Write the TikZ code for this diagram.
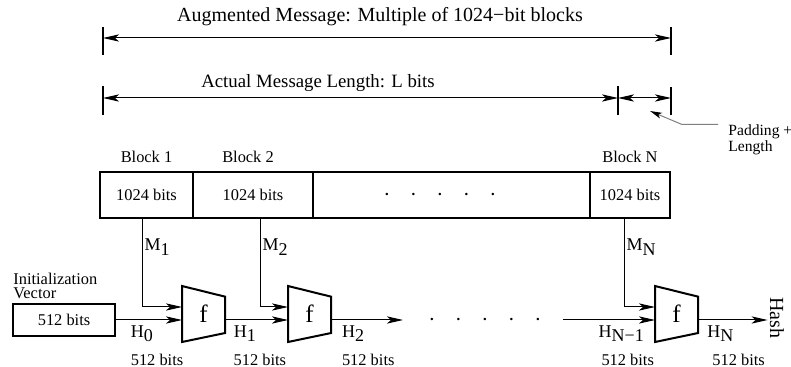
\documentclass[tikz,border=0pt]{standalone}
\usepackage{fontspec}
\setmainfont{Liberation Serif}
\usepackage{tikz}
\usetikzlibrary{arrows.meta,positioning,calc}
\newcommand{\lowsub}[1]{\raisebox{-0.55ex}{#1}}
\newcommand{\dotrow}{{\fontsize{12}{12}\selectfont$\cdot$\hspace{9.9pt}$\cdot$\hspace{9.9pt}$\cdot$\hspace{9.9pt}$\cdot$\hspace{9.9pt}$\cdot$}}

\begin{document}
\begin{tikzpicture}[
  x=0.5pt,y=-0.5pt,
  blk/.style={rectangle,draw,line width=1.4pt,minimum height=23pt,inner sep=0pt,outer sep=0pt,font=\fontsize{8.2}{9}\selectfont},
  lbl/.style={font=\fontsize{8.2}{9}\selectfont,inner sep=1pt},
  title/.style={font=\fontsize{10}{12}\selectfont,inner sep=1pt},
  fn/.style={minimum width=21.5pt,minimum height=28pt,inner sep=0pt,outer sep=0pt,font=\fontsize{12.5}{13}\selectfont},
  trap/.style={line width=1pt,line join=miter},
  hl/.style={font=\fontsize{9}{10}\selectfont,inner xsep=1pt,inner ysep=2.5pt},
  arr/.style={-{Stealth[length=8pt,width=3.6pt,inset=2pt]},line width=0.5pt},
  dim/.style={{Stealth[length=8pt,width=3.6pt,inset=2pt]}-{Stealth[length=8pt,width=3.6pt,inset=2pt]},line width=0.5pt},
  tick/.style={line width=0.6pt}
]
\useasboundingbox (0,0) rectangle (791,367);

\coordinate (augL) at (103,38);
\coordinate (augR) at (671,38);
\draw[dim] (augL) -- (augR);
\draw[tick] ([yshift=5.5pt]augL) -- ([yshift=-8.5pt]augL);
\draw[tick] ([yshift=5.5pt]augR) -- ([yshift=-8.5pt]augR);
\node[title] (aug) at (380,17) {Augmented Message: Multiple of 1024−bit blocks};

\coordinate (msgL) at (103,98);
\coordinate (msgR) at (618,98);
\coordinate (padR) at (671,98);
\draw[dim] (msgL) -- (msgR);
\draw[dim] (msgR) -- (padR);
\draw[tick] ([yshift=6pt]msgL) -- ([yshift=-8.5pt]msgL);
\draw[tick] ([yshift=6pt]msgR) -- ([yshift=-8.5pt]msgR);
\draw[tick] ([yshift=5.5pt]padR) -- ([yshift=-8.5pt]padR);
\node[title,font=\fontsize{9.4}{11}\selectfont] (msg) at (318,83) {Actual Message Length: L bits};

\node[font=\fontsize{7.8}{6.8}\selectfont,align=left,anchor=north west,inner sep=0pt] (pad) at (728,124.5) {Padding +\\Length};
\coordinate (padtip) at (650,111);
\draw[gray,line width=0.5pt,-{Stealth[length=6pt,width=3pt,inset=1.5pt,black]}] ([xshift=-5pt]pad.north west) -- ++(-36,0) -- (padtip);

\node[blk,minimum width=46.5pt] (b1) at (146.5,195) {1024 bits};
\node[blk,minimum width=60pt,right=0pt of b1] (b2) {1024 bits};
\node[blk,minimum width=138.5pt,right=0pt of b2] (bdots) {\dotrow\hspace*{11.5pt}};
\node[blk,minimum width=40pt,right=0pt of bdots] (bN) {1024 bits};
\node[lbl,above=3.5pt of b1] (b1lbl) {Block 1};
\node[lbl,above=3.5pt of b2,xshift=-2.5pt] (b2lbl) {Block 2};
\node[lbl,above=3.5pt of bN] (bNlbl) {Block N};

\node[draw,line width=0.6pt,minimum width=51pt,minimum height=16pt,inner sep=0pt,outer sep=0pt,font=\fontsize{8.2}{9}\selectfont] (iv) at (64,320) {512 bits};
\node[font=\fontsize{8.2}{6.8}\selectfont,align=left,anchor=south west,inner sep=0pt] (ivlbl) at ([yshift=2.5pt]iv.north west) {Initialization\\Vector};

\node[fn] (f1) at (203.5,314) {f};
\node[fn] (f2) at (309.5,314) {f};
\node[fn] (fN) at (676.5,314) {f};
\draw[trap] (f1.north west) -- ($(f1.north east)!0.19!(f1.south east)$) -- ($(f1.south east)!0.16!(f1.north east)$) -- (f1.south west) -- cycle;
\draw[trap] (f2.north west) -- ($(f2.north east)!0.19!(f2.south east)$) -- ($(f2.south east)!0.16!(f2.north east)$) -- (f2.south west) -- cycle;
\draw[trap] (fN.north west) -- ($(fN.north east)!0.19!(fN.south east)$) -- ($(fN.south east)!0.16!(fN.north east)$) -- (fN.south west) -- cycle;

\draw[arr] ([xshift=-2.25pt]b1.south) |- ([yshift=3.5pt]f1.west) node[hl,pos=0.163,anchor=west] (m1) {M\lowsub{1}};
\draw[arr] ([xshift=3.5pt]b2.south) |- ([yshift=3.5pt]f2.west) node[hl,pos=0.163,anchor=west] (m2) {M\lowsub{2}};
\draw[arr] ([xshift=-3pt]bN.south) |- ([yshift=3.5pt]fN.west) node[hl,pos=0.163,anchor=west] (mN) {M\lowsub{N}};

\coordinate (gapL) at (403,320);
\coordinate (gapR) at (563,320);
\node[inner sep=0pt] (chain) at (485,320) {\dotrow};
\node[title,rotate=-90] (hash) at (777,318) {Hash};

\draw[arr] (iv.east) -- (iv.east -| f1.west) node[hl,pos=0.2,anchor=north west] (h0) {H\lowsub{0}};
\draw[arr] (f1.east |- iv) -- (f2.west |- iv) node[hl,pos=0.1,anchor=north west] (h1) {H\lowsub{1}};
\draw[arr] (f2.east |- iv) -- (gapL) node[hl,pos=0.12,anchor=north west] (h2) {H\lowsub{2}};
\draw[arr] (gapR) -- (fN.west |- iv) node[hl,pos=0.36,anchor=north west] (hN1) {H\lowsub{N−1}};
\draw[arr] (fN.east |- iv) -- (fN.east |- iv -| hash.south) node[hl,pos=0.1,anchor=north west] (hN) {H\lowsub{N}};

\node[lbl,below=2pt of h0.south west,anchor=north west] (h0bits) {512 bits};
\node[lbl,below=2pt of h1.south west,anchor=north west] (h1bits) {512 bits};
\node[lbl,below=2pt of h2.south west,anchor=north west] (h2bits) {512 bits};
\node[lbl,below=2pt of hN1.south west,anchor=north west,xshift=1.5pt] (hN1bits) {512 bits};
\node[lbl,below=2pt of hN.south west,anchor=north west,xshift=2.5pt] (hNbits) {512 bits};
\end{tikzpicture}
\end{document}
